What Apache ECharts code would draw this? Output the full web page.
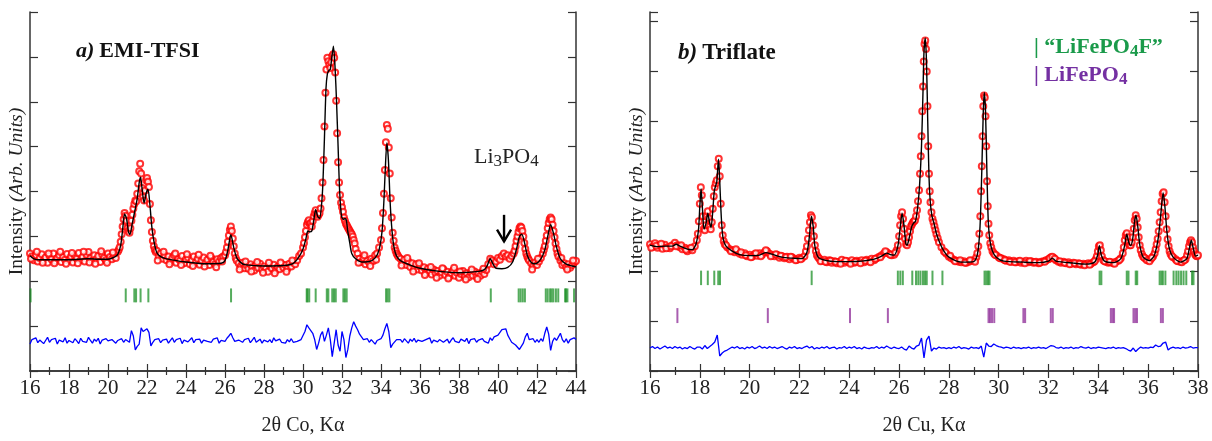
<!DOCTYPE html>
<html><head><meta charset="utf-8">
<script src="https://cdn.jsdelivr.net/npm/echarts@6/dist/echarts.min.js"></script>
<style>html,body{margin:0;padding:0;background:#fff}#c{width:1212px;height:441px}</style>
</head><body><div id="c"></div>
<script>
// ---------- Panel a) EMI-TFSI (2θ Co Kα) ----------
const xRangeA = [16, 44];
const obsA = [
[16.0,262],[16.1,255],[16.2,247],[16.3,258],[16.4,244],[16.5,252],[16.6,260],[16.7,246],[16.8,253],[16.9,241],
[17.0,257],[17.1,249],[17.2,262],[17.3,245],[17.4,251],[17.5,258],[17.6,243],[17.7,254],[17.8,248],[17.9,261],
[18.0,246],[18.1,255],[18.2,242],[18.3,257],[18.4,250],[18.5,263],[18.6,247],[18.7,254],[18.8,244],[18.9,259],
[19.0,265],[19.1,251],[19.2,246],[19.3,258],[19.4,249],[19.5,256],[19.6,243],[19.7,260],[19.8,252],[19.9,247],
[20.0,262],[20.1,254],[20.2,249],[20.3,258],[20.4,252],[20.5,266],
[20.55,270],[20.6,276],[20.65,288],[20.7,305],[20.75,322],[20.8,338],[20.85,352],[20.9,346],[20.95,335],[21.0,318],
[21.05,312],[21.1,308],[21.15,318],[21.2,335],[21.25,348],[21.3,362],[21.35,372],[21.4,380],[21.45,378],[21.5,395],
[21.55,418],[21.6,445],[21.65,462],[21.7,440],[21.75,408],[21.8,388],[21.85,380],[21.9,402],[21.95,425],[22.0,430],
[22.05,422],[22.1,410],[22.15,372],[22.2,336],[22.25,310],[22.3,290],[22.35,278],[22.4,270],[22.45,265],
[22.5,268],[22.6,255],[22.7,262],[22.8,250],[22.9,258],[23.0,247],[23.1,255],[23.2,244],[23.3,252],[23.4,258],
[23.5,241],[23.6,250],[23.7,246],[23.8,256],[23.9,240],[24.0,249],[24.1,253],[24.2,238],[24.3,247],[24.4,255],
[24.5,242],[24.6,250],[24.7,237],[24.8,246],[24.9,253],[25.0,240],[25.1,248],[25.2,236],[25.3,252],[25.4,243],
[25.5,238],[25.6,249],[25.7,244],[25.8,252],[25.9,255],
[26.0,258],[26.05,265],[26.1,275],[26.15,288],[26.2,302],[26.25,315],[26.3,322],[26.35,312],[26.4,295],[26.45,278],
[26.5,262],[26.55,252],[26.6,246],
[26.7,240],[26.8,233],[26.9,241],[27.0,229],[27.1,236],[27.2,228],[27.3,238],[27.4,231],[27.5,224],[27.6,236],
[27.7,230],[27.8,239],[27.9,226],[28.0,233],[28.1,228],[28.2,221],[28.3,235],[28.4,229],[28.5,237],[28.6,224],
[28.7,232],[28.8,227],[28.9,238],[29.0,230],[29.1,236],[29.2,228],[29.3,239],[29.4,233],[29.5,242],[29.6,238],
[29.7,247],[29.8,256],[29.9,262],
[30.0,275],[30.05,285],[30.1,298],[30.15,312],[30.2,326],[30.25,332],[30.3,336],[30.35,328],[30.4,330],[30.45,322],
[30.5,334],[30.55,345],[30.6,352],[30.65,358],[30.7,350],[30.75,344],[30.8,348],[30.85,352],[30.9,362],[30.95,385],
[31.0,420],[31.05,470],[31.1,545],[31.15,620],[31.2,672],[31.25,698],[31.3,690],[31.35,682],[31.4,675],[31.45,688],
[31.5,702],[31.55,706],[31.6,698],[31.65,665],[31.7,602],[31.75,530],[31.8,465],[31.85,420],[31.9,392],[31.95,375],
[32.0,365],[32.05,355],[32.1,342],[32.15,335],[32.2,328],[32.25,324],[32.3,320],[32.35,316],[32.4,312],[32.45,308],
[32.5,305],[32.55,300],[32.6,292],[32.65,284],[32.7,272],
[32.8,262],[32.9,250],[33.0,243],[33.1,252],[33.2,238],[33.3,246],[33.4,241],[33.5,250],[33.6,245],[33.7,258],
[33.8,262],[33.9,275],
[34.0,292],[34.05,318],[34.1,352],[34.15,395],[34.2,448],[34.25,510],[34.3,548],[34.35,540],[34.4,498],[34.45,440],
[34.5,385],[34.55,342],[34.6,308],[34.65,290],[34.7,275],[34.75,268],[34.8,262],[34.85,258],[34.9,254],
[35.0,250],[35.1,241],[35.2,248],[35.3,236],[35.4,244],[35.5,232],[35.6,240],[35.7,228],[35.8,238],[35.9,226],
[36.0,233],[36.1,224],[36.2,231],[36.3,219],[36.4,228],[36.5,222],[36.6,215],[36.7,226],[36.8,218],[36.9,223],
[37.0,212],[37.1,220],[37.2,227],[37.3,214],[37.4,221],[37.5,210],[37.6,218],[37.7,224],[37.8,212],[37.9,219],
[38.0,208],[38.1,216],[38.2,223],[38.3,211],[38.4,218],[38.5,209],[38.6,220],[38.7,213],[38.8,222],[38.9,210],
[39.0,218],[39.1,212],[39.2,221],[39.3,216],[39.4,225],[39.5,238],[39.6,250],[39.7,246],[39.8,238],[39.9,244],
[40.0,252],[40.1,248],[40.2,256],[40.3,262],[40.4,255],[40.5,258],[40.6,250],[40.7,256],[40.8,262],
[40.85,268],[40.9,278],[40.95,290],[41.0,300],[41.05,310],[41.1,318],[41.15,322],[41.2,320],[41.25,312],[41.3,300],
[41.35,285],[41.4,272],[41.45,262],[41.5,255],[41.55,250],[41.6,246],
[41.7,240],[41.8,234],[41.9,242],[42.0,236],[42.1,244],[42.2,252],[42.3,262],
[42.35,270],[42.4,278],[42.45,290],[42.5,302],[42.55,318],[42.6,330],[42.65,338],[42.7,342],[42.75,338],[42.8,326],
[42.85,312],[42.9,298],[42.95,284],[43.0,272],[43.05,262],[43.1,255],
[43.2,246],[43.3,236],[43.4,240],[43.5,232],[43.6,238],[43.7,230],[43.8,236],[43.9,242],[44.0,245],
// extra scatter of the dense background readings
[16.05,250],[16.35,266],[16.65,241],[16.95,262],[17.25,240],[17.55,266],[17.85,239],[18.15,263],[18.45,240],[18.75,266],
[19.05,242],[19.35,239],[19.65,267],[19.95,241],[20.25,264],[22.55,246],[22.85,266],[23.15,238],[23.45,262],[23.75,236],
[24.05,260],[24.35,234],[24.65,259],[24.95,233],[25.25,257],[25.55,231],[25.85,244],[26.75,226],[27.05,244],[27.35,222],
[27.65,243],[27.95,219],[28.25,241],[28.55,218],[28.85,242],[29.15,221],[29.45,246],[32.85,241],[33.15,258],[33.45,234],
[33.75,248],[35.05,235],[35.35,252],[35.65,222],[35.95,240],[36.25,214],[36.55,232],[36.85,208],[37.15,229],[37.45,206],
[37.75,230],[38.05,222],[38.35,204],[38.65,226],[38.95,205],[39.25,228],[41.75,226],[42.05,250],[43.25,252],[43.55,226],[43.85,246]
];
const calcA = [
[16.0,257],[16.2,250],[16.5,248],[17,248],[18,248],[19,250],[19.5,249],[20,249],[20.3,253],[20.5,260],
[20.65,280],[20.75,315],[20.85,350],[20.95,340],[21.05,310],[21.12,304],[21.25,330],[21.4,362],[21.5,385],[21.6,420],
[21.67,432],[21.75,405],[21.85,374],[21.95,395],[22.05,405],[22.15,370],[22.25,320],[22.35,290],[22.5,264],[22.7,255],
[23,250],[24,243],[25,239],[25.8,240],[26.0,246],[26.15,270],[26.3,304],[26.45,275],[26.6,252],[26.8,242],
[27,237],[28,234],[29,235],[29.5,240],[29.8,255],[30.0,272],[30.15,295],[30.25,312],[30.35,310],[30.45,312],
[30.55,335],[30.65,360],[30.75,345],[30.85,340],[30.95,370],[31.02,418],[31.1,520],[31.18,630],[31.25,662],[31.33,670],
[31.4,672],[31.48,700],[31.56,724],[31.64,680],[31.72,600],[31.8,500],[31.88,400],[31.98,344],[32.08,338],[32.15,340],
[32.22,336],[32.3,310],[32.4,285],[32.5,262],[32.7,250],[33.0,243],[33.4,244],[33.7,252],[33.9,270],[34.05,310],
[34.15,380],[34.22,450],[34.3,508],[34.38,470],[34.47,375],[34.57,310],[34.67,275],[34.8,256],[35.0,246],[35.5,236],
[36,229],[37,222],[38,219],[39,222],[39.3,226],[39.45,235],[39.6,250],[39.75,238],[39.9,229],[40.2,228],
[40.5,231],[40.75,243],[40.95,272],[41.1,300],[41.22,305],[41.35,288],[41.5,258],[41.7,242],[41.9,239],[42.2,250],
[42.4,270],[42.55,300],[42.7,326],[42.85,306],[43.0,276],[43.2,250],[43.5,238],[43.8,234],[44,232]
];
// difference curve, one value every 0.1° from 16.0
const diffA = [
60,70,66,74,63,69,72,61,68,75,
64,70,66,73,60,69,71,65,74,62,
68,70,63,72,67,61,73,66,70,64,
75,68,62,71,66,73,60,69,65,72,
67,63,70,74,62,68,66,72,64,70,
68,64,90,78,47,55,60,96,88,92,
94,86,56,64,70,66,72,63,69,65,
71,62,68,74,64,70,66,73,61,69,
72,65,68,74,63,70,66,71,62,69,
73,66,70,64,71,67,74,62,68,70,
66,73,78,84,74,66,62,69,72,64,
70,66,73,63,69,75,64,68,71,62,
69,72,65,70,63,74,67,66,71,64,
68,62,70,65,72,64,60,66,63,70,
72,88,103,96,92,84,70,48,62,80,
88,66,80,96,70,32,62,92,58,44,
88,70,30,48,78,96,110,100,92,82,
76,70,68,72,64,70,66,60,68,70,
72,80,94,106,88,52,60,64,70,66,
70,64,72,67,62,71,66,73,64,69,
72,66,63,70,68,74,62,69,71,65,
70,73,64,68,71,62,69,74,66,70,
63,71,68,66,73,61,70,67,72,64,
69,65,72,66,70,62,74,68,76,80,
80,86,92,88,94,80,72,64,60,58,
54,48,52,62,76,84,70,66,72,64,
70,64,72,66,84,98,82,46,66,74,
68,76,84,70,64,72,62,70,66,74,
70
];
const braggA = [16.03,20.91,21.35,21.44,21.67,22.07,26.31,30.19,30.23,30.32,30.65,31.22,31.30,31.50,31.59,31.68,32.07,32.15,32.24,34.26,34.34,34.43,39.63,41.06,41.16,41.27,41.38,42.45,42.55,42.67,42.75,42.84,42.97,43.09,43.44,43.49,43.56,43.90];
const arrowA = [40.31, 348, 289]; // x, top, tip (intensity units)

// ---------- Panel b) Triflate (2θ Cu Kα) ----------
const xRangeB = [16, 38];
const obsB = [
[16.0,254],[16.1,249],[16.2,256],[16.3,247],[16.4,252],[16.5,245],[16.6,253],[16.7,248],[16.8,246],[16.9,252],
[17.0,257],[17.1,252],[17.2,248],[17.3,244],[17.4,247],[17.5,240],[17.6,245],[17.7,242],[17.8,250],
[17.88,262],[17.92,275],[17.96,300],[18.0,335],[18.04,368],[18.08,352],[18.12,310],[18.16,285],[18.2,282],[18.24,292],
[18.28,310],[18.32,320],[18.36,306],[18.4,290],[18.44,284],[18.48,298],[18.52,325],[18.56,350],[18.6,368],[18.64,376],
[18.68,382],[18.72,410],[18.76,425],[18.8,390],[18.84,335],[18.88,292],[18.92,272],[18.96,260],[19.0,254],
[19.1,248],[19.2,244],[19.3,242],[19.4,238],[19.5,240],[19.6,235],[19.7,233],[19.8,236],[19.9,230],[20.0,233],
[20.1,229],[20.2,234],[20.3,231],[20.4,236],[20.5,233],[20.6,238],[20.7,240],[20.8,235],[20.9,232],[21.0,230],
[21.1,233],[21.2,227],[21.3,230],[21.4,226],[21.5,229],[21.6,224],[21.7,228],[21.8,225],[21.9,223],[22.0,227],
[22.1,226],[22.2,230],
[22.26,240],[22.3,250],[22.34,265],[22.38,282],[22.42,298],[22.46,312],[22.5,308],[22.54,292],[22.58,270],[22.62,252],
[22.66,240],[22.7,232],[22.75,228],
[22.8,225],[22.9,221],[23.0,223],[23.1,218],[23.2,222],[23.3,217],[23.4,220],[23.5,216],[23.6,219],[23.7,223],
[23.8,217],[23.9,220],[24.0,218],[24.1,222],[24.2,217],[24.3,221],[24.4,219],[24.5,222],[24.6,218],[24.7,223],
[24.8,220],[24.9,225],[25.0,222],[25.1,226],[25.2,229],[25.3,232],[25.4,236],[25.5,238],[25.6,235],[25.7,232],
[25.8,233],[25.9,242],
[25.95,252],[26.0,270],[26.04,292],[26.08,310],[26.12,318],[26.16,305],[26.2,285],[26.24,265],[26.28,254],[26.32,252],
[26.36,258],[26.4,268],[26.44,280],[26.48,290],[26.52,294],[26.56,298],[26.6,300],[26.64,302],[26.68,310],[26.72,322],
[26.76,340],[26.8,362],[26.84,395],[26.87,430],[26.9,470],[26.93,520],[26.96,570],[26.99,620],[27.02,655],[27.05,662],
[27.08,645],[27.11,600],[27.14,530],[27.17,450],[27.2,395],[27.23,360],[27.26,338],[27.3,318],[27.34,305],[27.38,298],
[27.42,290],[27.46,282],[27.5,274],[27.55,266],[27.6,258],[27.7,248],[27.8,240],
[27.9,235],[28.0,229],[28.1,226],[28.2,223],[28.3,221],[28.4,219],[28.5,218],[28.6,220],[28.7,217],[28.8,219],
[28.9,221],[29.0,222],[29.1,228],
[29.14,236],[29.18,250],[29.22,275],[29.26,310],[29.29,360],[29.32,410],[29.35,470],[29.38,530],[29.41,552],[29.44,548],
[29.47,510],[29.5,450],[29.53,380],[29.56,330],[29.59,295],[29.62,272],[29.66,256],[29.7,248],[29.75,240],
[29.8,236],[29.9,232],[30.0,228],[30.1,226],[30.2,224],[30.3,221],[30.4,222],[30.5,219],[30.6,221],[30.7,218],
[30.8,220],[30.9,217],[31.0,219],[31.1,221],[31.2,218],[31.3,220],[31.4,217],[31.5,219],[31.6,216],[31.7,219],
[31.8,220],[31.9,222],[32.0,224],[32.1,228],[32.2,227],[32.3,222],[32.4,219],[32.5,217],[32.6,219],[32.7,216],
[32.8,218],[32.9,215],[33.0,217],[33.1,214],[33.2,216],[33.3,213],[33.4,215],[33.5,214],[33.6,216],[33.7,215],
[33.8,218],[33.9,224],
[33.94,230],[33.98,240],[34.02,250],[34.06,252],[34.1,242],[34.14,230],[34.2,222],
[34.3,219],[34.4,217],[34.5,218],[34.6,216],[34.7,219],[34.8,221],[34.9,226],
[34.98,236],[35.02,248],[35.06,262],[35.1,272],[35.14,276],[35.18,268],[35.22,258],[35.26,252],[35.3,252],[35.34,258],
[35.38,268],[35.42,285],[35.46,302],[35.5,312],[35.54,305],[35.58,288],[35.62,268],[35.66,252],[35.7,242],[35.75,234],
[35.8,229],[35.9,225],[36.0,223],[36.1,224],[36.2,230],
[36.26,236],[36.3,244],[36.34,254],[36.38,265],[36.42,280],[36.46,298],[36.5,318],[36.54,340],[36.58,355],[36.62,358],
[36.66,338],[36.7,310],[36.74,284],[36.78,264],[36.82,250],[36.86,240],[36.9,234],
[37.0,228],[37.1,224],[37.2,220],[37.3,219],[37.4,221],[37.5,224],
[37.56,232],[37.6,240],[37.64,250],[37.68,258],[37.72,262],[37.76,258],[37.8,248],[37.84,240],[37.88,234],[37.92,231],
[37.96,230],[38.0,232],
// extra background readings
[16.05,247],[16.25,251],[16.45,255],[16.65,246],[16.85,250],[17.05,250],[17.25,252],[17.45,243],[17.65,247],[19.05,252],
[19.25,240],[19.45,244],[19.65,238],[19.85,232],[20.05,228],[20.25,236],[20.45,230],[20.65,242],[20.85,230],[21.05,234],
[21.25,231],[21.45,228],[21.65,229],[21.85,222],[22.05,224],[22.85,220],[23.05,219],[23.25,221],[23.45,219],[23.65,215],
[23.85,221],[24.05,215],[24.25,219],[24.45,216],[24.65,221],[24.85,218],[25.05,225],[25.25,228],[25.45,240],[25.65,233],
[25.85,237],[27.85,238],[28.05,231],[28.25,220],[28.45,222],[28.65,217],[28.85,222],[29.05,219],[29.85,233],[30.05,226],
[30.25,222],[30.45,219],[30.65,218],[30.85,221],[31.05,216],[31.25,220],[31.45,218],[31.65,217],[31.85,219],[32.05,226],
[32.15,229],[32.25,225],[32.45,220],[32.65,217],[32.85,214],[33.05,216],[33.25,215],[33.45,212],[33.65,213],[33.85,220],
[34.25,220],[34.45,219],[34.65,215],[34.85,223],[35.85,227],[35.95,222],[36.05,220],[36.15,227],[36.95,230],[37.15,221],
[37.35,218],[37.45,222]
];
const calcB = [
[16.0,252],[16.3,249],[16.6,250],[16.9,250],[17.05,254],[17.2,250],[17.5,244],[17.7,243],[17.85,255],[17.95,285],
[18.0,330],[18.05,365],[18.1,330],[18.17,284],[18.25,296],[18.32,316],[18.38,300],[18.45,287],[18.52,320],[18.58,360],
[18.64,372],[18.68,378],[18.75,424],[18.8,380],[18.85,320],[18.9,280],[18.95,262],[19.05,250],[19.3,240],[19.6,233],
[20.0,231],[20.4,232],[20.65,237],[20.9,234],[21.3,228],[21.7,226],[22.1,225],[22.3,238],[22.4,270],[22.48,310],
[22.55,290],[22.62,250],[22.75,228],[23.0,222],[23.5,219],[24.0,219],[24.5,220],[25.0,224],[25.3,230],[25.5,236],
[25.65,233],[25.8,232],[25.95,250],[26.05,290],[26.12,316],[26.2,290],[26.27,255],[26.32,252],[26.4,265],[26.5,288],
[26.58,296],[26.66,300],[26.75,330],[26.82,370],[26.9,450],[26.96,560],[27.0,640],[27.05,667],[27.1,620],[27.15,500],
[27.2,390],[27.25,340],[27.32,310],[27.4,296],[27.5,275],[27.65,255],[27.8,240],[28.0,228],[28.5,218],[29.0,219],
[29.15,235],[29.25,290],[29.32,400],[29.38,520],[29.42,558],[29.47,520],[29.52,410],[29.58,300],[29.65,260],[29.75,240],
[29.9,228],[30.2,220],[31.0,218],[31.6,217],[32.0,220],[32.15,226],[32.3,220],[33.0,216],[33.5,214],[33.85,218],
[33.97,232],[34.04,251],[34.12,232],[34.25,220],[34.6,217],[34.9,225],[35.05,250],[35.14,274],[35.22,258],[35.3,251],
[35.38,265],[35.45,298],[35.51,312],[35.58,290],[35.67,250],[35.8,228],[36.05,221],[36.25,232],[36.4,265],[36.5,310],
[36.6,357],[36.67,330],[36.75,280],[36.85,245],[37.0,228],[37.3,218],[37.55,225],[37.65,245],[37.73,262],[37.8,248],
[37.9,230],[38.0,232]
];
const diffB = [
46,49,45,48,44,47,50,46,48,45,
49,46,48,44,47,45,49,46,44,48,
48,44,51,45,49,53,58,72,30,36,
40,42,45,48,46,49,45,47,44,48,
46,49,45,47,50,46,48,45,49,46,
48,45,47,49,46,44,48,46,49,45,
47,45,48,50,46,49,44,47,45,48,
46,49,45,47,48,44,47,46,49,45,
48,46,49,45,47,44,48,46,45,47,
46,49,45,48,46,50,47,45,48,46,
45,48,44,42,50,46,44,50,52,66,
26,62,70,40,46,44,48,46,47,45,
47,45,48,46,49,45,47,46,44,48,
46,47,45,50,28,56,50,49,54,51,
49,48,46,48,47,45,48,46,47,45,
47,46,48,45,47,46,48,46,47,45,
48,51,50,47,46,48,45,47,46,48,
45,47,46,49,47,46,48,45,47,46,
48,47,46,45,47,46,48,45,47,46,
47,45,42,40,46,39,44,48,46,47,
46,48,47,52,49,50,56,58,42,46,
48,46,47,45,48,46,47,49,46,47,
47
];
const braggB1 = [18.05,18.32,18.58,18.74,18.81,22.49,25.95,26.05,26.15,26.53,26.68,26.77,26.86,26.96,27.04,27.11,27.34,27.74,29.43,29.50,29.57,29.63,34.05,34.12,35.14,35.21,35.50,35.56,36.46,36.53,36.59,36.69,37.02,37.13,37.22,37.32,37.42,37.53,37.76,37.82];
const braggB2 = [17.10,20.73,24.03,25.55,29.59,29.65,29.73,29.82,30.99,31.06,32.09,32.17,34.50,34.57,34.63,35.41,35.48,35.55,36.51,36.59];

// ---------- styling / helpers ----------
const SERIF = '"Liberation Serif","DejaVu Serif",serif';
const AX = '#333';
const gridA = {left: 30, right: 636, top: 12, bottom: 64};
const gridB = {left: 650, right: 14, top: 12, bottom: 64};

function xBottom(gi, range, name) {
  return {type: 'value', gridIndex: gi, min: range[0], max: range[1], interval: 2, position: 'bottom',
    axisLine: {lineStyle: {color: AX, width: 1.5}},
    axisTick: {inside: true, length: 7, lineStyle: {color: AX, width: 1.2}},
    minorTick: {show: true, splitNumber: 2, length: 4, lineStyle: {color: AX, width: 1.2}},
    splitLine: {show: false},
    axisLabel: {margin: 7, fontFamily: SERIF, fontSize: 21, color: '#222'},
    name: name, nameLocation: 'middle', nameGap: 45,
    nameTextStyle: {fontFamily: SERIF, fontSize: 20, color: '#222'}};
}
function xTop(gi, range) {
  return {type: 'value', gridIndex: gi, min: range[0], max: range[1], interval: 2, position: 'top',
    axisLine: {lineStyle: {color: AX, width: 1.5}},
    axisTick: {inside: true, length: 7, lineStyle: {color: AX, width: 1.2}},
    minorTick: {show: true, splitNumber: 2, length: 4, lineStyle: {color: AX, width: 1.2}},
    splitLine: {show: false}, axisLabel: {show: false}};
}
function yAx(gi, max, pos, withName) {
  const o = {type: 'value', gridIndex: gi, min: 0, max: max, interval: 100, position: pos,
    axisLine: {show: true, lineStyle: {color: AX, width: 1.5}},
    axisTick: {show: true, inside: true, length: 8, lineStyle: {color: AX, width: 1.2}},
    splitLine: {show: false}, axisLabel: {show: false}};
  if (withName) {
    o.name = '{n|Intensity }{i|(Arb. Units)}';
    o.nameLocation = 'middle'; o.nameGap = 3;
    o.nameTextStyle = {fontFamily: SERIF, fontSize: 19.5, color: '#222',
      rich: {n: {fontFamily: SERIF, fontSize: 19.5, color: '#222'},
             i: {fontFamily: SERIF, fontSize: 19.5, color: '#222', fontStyle: 'italic'}}};
  }
  return o;
}
function braggSeries(xi, yi, xs, lo, hi, color) {
  return {type: 'custom', xAxisIndex: xi, yAxisIndex: yi, z: 3, silent: true,
    data: xs.map(x => [x, lo, hi]),
    renderItem: (p, api) => {
      const a = api.coord([api.value(0), api.value(1)]);
      const b = api.coord([api.value(0), api.value(2)]);
      return {type: 'line', shape: {x1: a[0], y1: a[1], x2: b[0], y2: b[1]},
        style: {stroke: color, lineWidth: 2}};
    }};
}
const gridDiff = (arr, x0) => arr.map((v, i) => [+(x0 + i * 0.1).toFixed(2), v]);
function richTitle(parts, size, weight, color) {
  const r = {};
  r.t = {fontFamily: SERIF, fontSize: size, fontWeight: weight, color: color, lineHeight: size + 3};
  r.s = {fontFamily: SERIF, fontSize: Math.round(size * 0.75), fontWeight: weight, color: color,
         lineHeight: Math.round(size * 0.75), verticalAlign: 'bottom'};
  r.i = {fontFamily: SERIF, fontSize: size, fontWeight: weight, fontStyle: 'italic', color: color, lineHeight: size + 3};
  return {rich: r, fontWeight: weight};
}

const option = {
  animation: false,
  backgroundColor: '#fff',
  grid: [gridA, gridB],
  xAxis: [xBottom(0, xRangeA, '2θ Co, Kα'), xTop(0, xRangeA), xBottom(1, xRangeB, '2θ Cu, Kα'), xTop(1, xRangeB)],
  yAxis: [yAx(0, 800, 'left', true), yAx(0, 800, 'right', false), yAx(1, 719, 'left', true), yAx(1, 719, 'right', false)],
  title: [
    {text: '{i|a)} {t|EMI-TFSI}', left: 76, top: 39, padding: 0, textStyle: richTitle(0, 22, 'bold', '#111')},
    {text: '{i|b)} {t|Triflate}', left: 678, top: 40, padding: 0, textStyle: richTitle(0, 23, 'bold', '#111')},
    {text: '{t|Li}{s|3}{t|PO}{s|4}', left: 474, top: 145, padding: 0, textStyle: richTitle(0, 22, 'normal', '#222')},
    {text: '{t|| “LiFePO}{s|4}{t|F”}', left: 1034, top: 35, padding: 0, textStyle: richTitle(0, 22, 'bold', '#1a9a4a')},
    {text: '{t|| LiFePO}{s|4}', left: 1034, top: 63, padding: 0, textStyle: richTitle(0, 22, 'bold', '#7430a2')}
  ],
  series: [
    // panel a
    {type: 'scatter', xAxisIndex: 0, yAxisIndex: 0, data: obsA, symbol: 'emptyCircle', symbolSize: 6, z: 2,
     itemStyle: {color: '#ff0000', borderWidth: 1.2}, silent: true},
    {type: 'line', xAxisIndex: 0, yAxisIndex: 0, data: calcA, showSymbol: false, smooth: 0.25, z: 4,
     lineStyle: {color: '#000', width: 1.4}, silent: true},
    braggSeries(0, 0, braggA, 153, 184, 'rgba(20,140,30,0.72)'),
    {type: 'line', xAxisIndex: 0, yAxisIndex: 0, data: gridDiff(diffA, xRangeA[0]), showSymbol: false, z: 4,
     lineStyle: {color: '#0000ff', width: 1.3}, silent: true},
    {type: 'custom', xAxisIndex: 0, yAxisIndex: 0, z: 5, silent: true, data: [arrowA],
     renderItem: (p, api) => {
       const x = api.value(0), top = api.coord([x, api.value(1)]), tip = api.coord([x, api.value(2)]);
       const l = api.coord([x - 0.36, api.value(2) + 26]), r = api.coord([x + 0.36, api.value(2) + 26]);
       return {type: 'group', children: [
         {type: 'line', shape: {x1: top[0], y1: top[1], x2: tip[0], y2: tip[1]}, style: {stroke: '#000', lineWidth: 2.4}},
         {type: 'polyline', shape: {points: [l, tip, r]}, style: {stroke: '#000', lineWidth: 2.4, fill: null}}]};
     }},
    // panel b
    {type: 'scatter', xAxisIndex: 2, yAxisIndex: 2, data: obsB, symbol: 'emptyCircle', symbolSize: 6, z: 2,
     itemStyle: {color: '#ff0000', borderWidth: 1.2}, silent: true},
    {type: 'line', xAxisIndex: 2, yAxisIndex: 2, data: calcB, showSymbol: false, smooth: 0.25, z: 4,
     lineStyle: {color: '#000', width: 1.4}, silent: true},
    braggSeries(2, 2, braggB1, 172, 201, 'rgba(20,140,30,0.72)'),
    braggSeries(2, 2, braggB2, 96, 126, 'rgba(140,40,150,0.75)'),
    {type: 'line', xAxisIndex: 2, yAxisIndex: 2, data: gridDiff(diffB, xRangeB[0]), showSymbol: false, z: 4,
     lineStyle: {color: '#0000ff', width: 1.3}, silent: true}
  ]
};
const chart = echarts.init(document.getElementById('c'), null, {renderer: 'canvas'});
chart.setOption(option);
</script></body></html>
